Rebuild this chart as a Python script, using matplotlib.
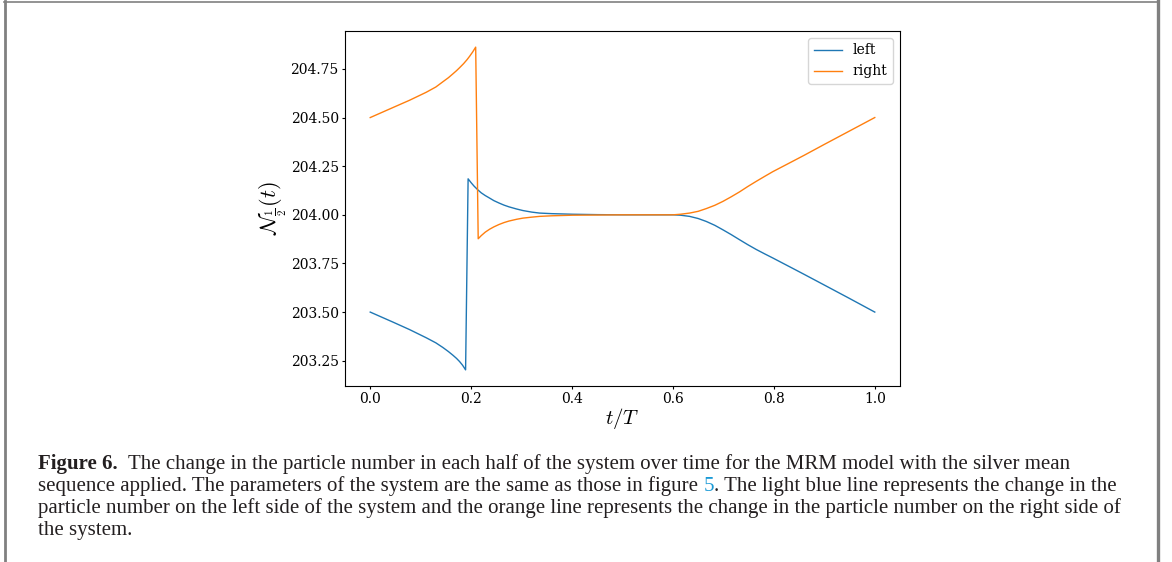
import numpy as np
import matplotlib.pyplot as plt
from matplotlib.lines import Line2D

plt.rcParams['font.family'] = 'serif'
plt.rcParams['font.serif'] = ['DejaVu Serif']
plt.rcParams['mathtext.fontset'] = 'cm'

# particle number in the left half, N_1/2(t)
t_left = [0.0, 0.0455, 0.078, 0.111, 0.13, 0.144, 0.155, 0.164, 0.171, 0.177, 0.183, 0.189,
          0.194, 0.200, 0.206, 0.213, 0.22, 0.228, 0.2366, 0.245, 0.255, 0.265, 0.275,
          0.29, 0.3026, 0.32, 0.3356, 0.36, 0.401, 0.45,
          0.5, 0.6, 0.615, 0.633, 0.65, 0.666, 0.683, 0.699, 0.715, 0.732, 0.748,
          0.765, 0.782, 0.798, 0.815, 0.835, 0.86, 0.9, 0.95, 1.0]
n_left = [203.500, 203.448, 203.410, 203.368, 203.342, 203.318, 203.297, 203.278, 203.262,
          203.246, 203.227, 203.203,
          204.185, 204.165, 204.147, 204.129, 204.113, 204.099, 204.086, 204.073, 204.061,
          204.050, 204.041, 204.030, 204.022, 204.014, 204.009, 204.006, 204.003, 204.001,
          204.000, 204.000, 203.998, 203.992, 203.981, 203.966, 203.946, 203.923, 203.899,
          203.872, 203.847, 203.822, 203.799, 203.778, 203.755, 203.728, 203.694, 203.639,
          203.570, 203.500]

# particle number in the right half
t_right = [0.0, 0.0455, 0.078, 0.111, 0.13, 0.144, 0.155, 0.164, 0.171, 0.177, 0.185, 0.192,
           0.197, 0.203, 0.209,
           0.214, 0.22, 0.228, 0.2366, 0.245, 0.255, 0.265, 0.275, 0.29, 0.3026, 0.32,
           0.3356, 0.36, 0.401, 0.45,
           0.5, 0.6, 0.615, 0.633, 0.65, 0.666, 0.683, 0.699, 0.715, 0.732, 0.748,
           0.765, 0.782, 0.798, 0.815, 0.835, 0.86, 0.9, 0.95, 1.0]
n_right = [204.500, 204.552, 204.589, 204.630, 204.657, 204.684, 204.705, 204.725, 204.741,
           204.756, 204.777, 204.798, 204.815, 204.837, 204.862,
           203.877, 203.893, 203.911, 203.926, 203.938, 203.950, 203.960, 203.968, 203.977,
           203.983, 203.988, 203.992, 203.995, 203.998, 203.999,
           204.000, 204.000, 204.003, 204.009, 204.018, 204.032, 204.049, 204.069, 204.092,
           204.118, 204.145, 204.172, 204.198, 204.222, 204.245, 204.272, 204.306, 204.362,
           204.431, 204.500]

caption = [
    "The change in the particle number in each half of the system over time for the MRM model with the silver mean",
    "sequence applied. The parameters of the system are the same as those in figure ",
    "particle number on the left side of the system and the orange line represents the change in the particle number on the right side of",
    "the system.",
]
caption_tail = ". The light blue line represents the change in the"

W, H = 1172, 562
fig = plt.figure(figsize=(W / 100, H / 100), dpi=100)
ax = fig.add_axes([345 / W, 1 - 386 / H, 555 / W, 355 / H])

ax.plot(t_left, n_left, color='#1f77b4', lw=1.0, label='left')
ax.plot(t_right, n_right, color='#ff7f0e', lw=1.0, label='right')
ax.set_xticks([0.0, 0.2, 0.4, 0.6, 0.8, 1.0])
ax.set_yticks([203.25, 203.5, 203.75, 204.0, 204.25, 204.5, 204.75])
ax.tick_params(labelsize=10, length=2.5, pad=2)
ax.set_xlabel(r'$t/T$', fontsize=15, labelpad=0)
ax.set_ylabel(r'$\mathcal{N}_{\frac{1}{2}}(t)$', fontsize=16, labelpad=1)
ax.legend(loc='upper right', fontsize=10)

# page frame
grey = '#808080'
fig.add_artist(Line2D([4, 1158], [H - 1.5, H - 1.5], transform=None, color=grey, lw=1.2))
fig.add_artist(Line2D([4.5, 4.5], [0, H - 1], transform=None, color=grey, lw=2))
fig.add_artist(Line2D([1158, 1158], [0, H - 1], transform=None, color=grey, lw=2.4))

# caption
cap_font = dict(family='Liberation Serif', fontsize=15, color='#231f20', va='baseline')
fig.canvas.draw()
r = fig.canvas.get_renderer()
x0 = 38
baselines = [469, 491, 513, 535]

b = fig.text(x0 / W, 1 - baselines[0] / H, 'Figure 6.', fontweight='bold', **cap_font)
bx = b.get_window_extent(r).x1
fig.text((bx + 10) / W, 1 - baselines[0] / H, caption[0], **cap_font)

t2 = fig.text(x0 / W, 1 - baselines[1] / H, caption[1], **cap_font)
x2 = t2.get_window_extent(r).x1
t5 = fig.text(x2 / W, 1 - baselines[1] / H, '5', **{**cap_font, 'color': '#1a9ad6'})
x5 = t5.get_window_extent(r).x1
fig.text(x5 / W, 1 - baselines[1] / H, caption_tail, **cap_font)

fig.text(x0 / W, 1 - baselines[2] / H, caption[2], **cap_font)
fig.text(x0 / W, 1 - baselines[3] / H, caption[3], **cap_font)

fig.savefig('out.png', dpi=100)
